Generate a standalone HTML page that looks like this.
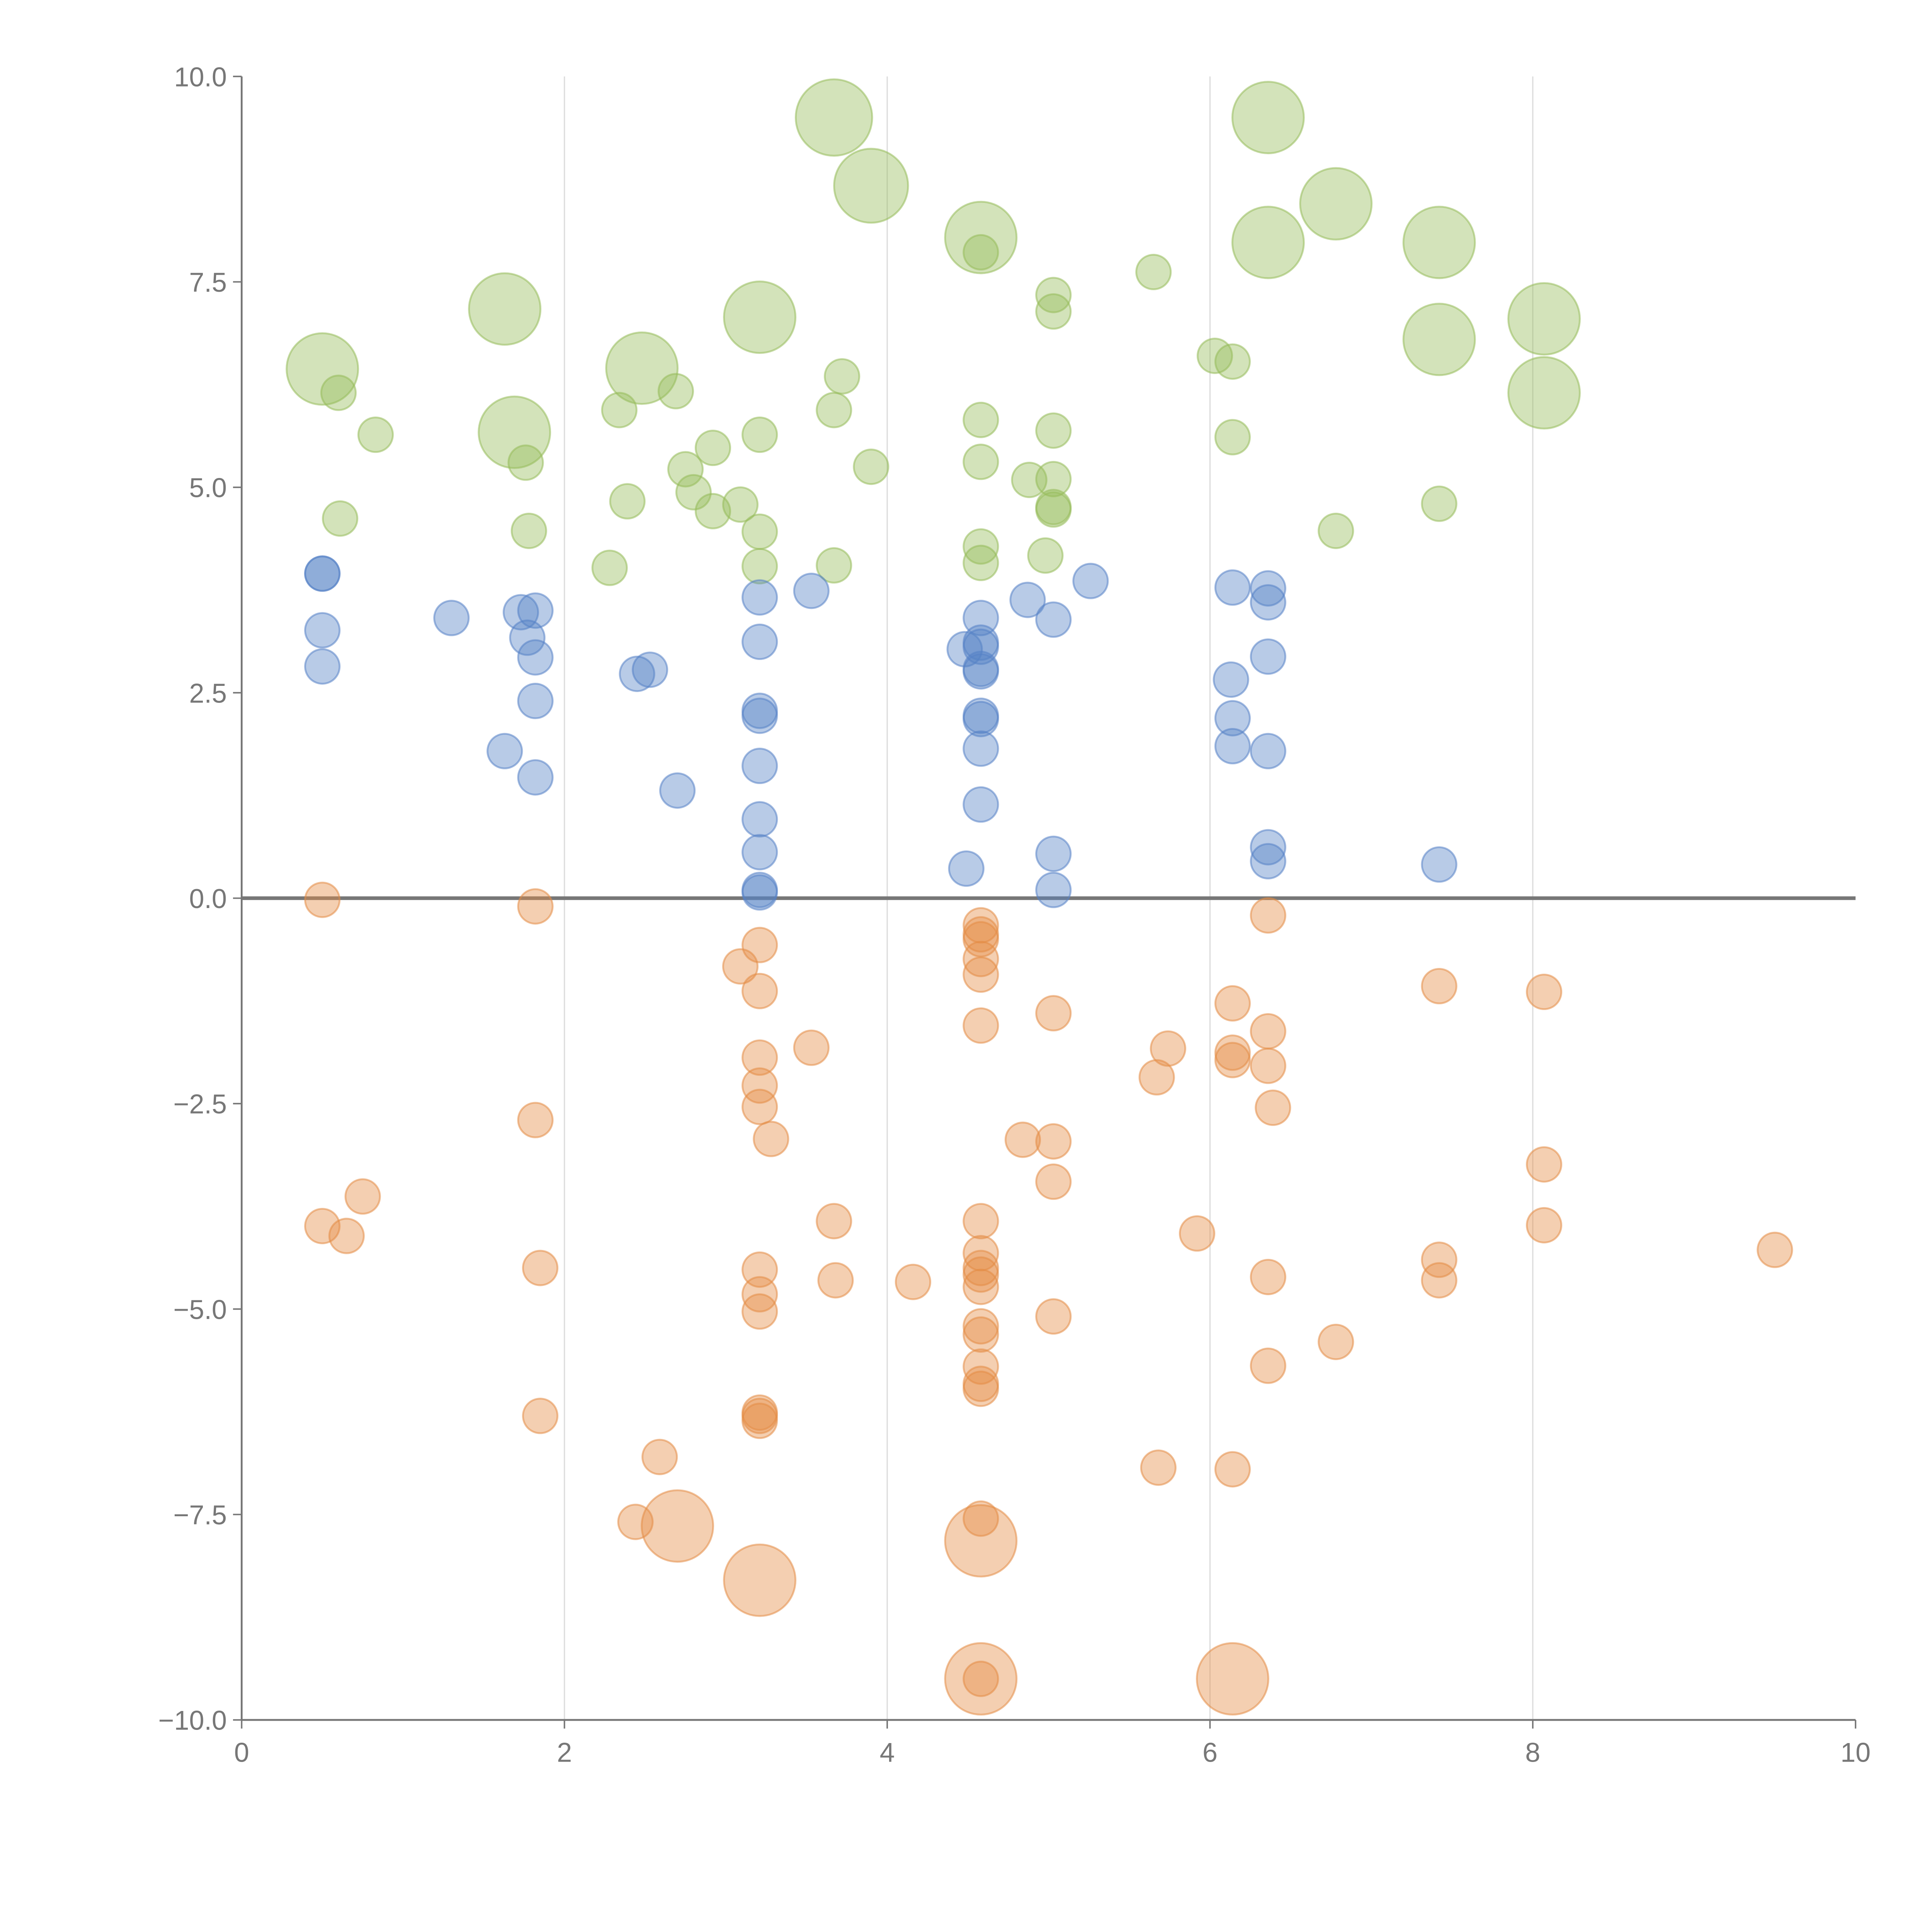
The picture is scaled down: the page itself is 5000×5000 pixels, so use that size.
<!DOCTYPE html>
<html><head><meta charset="utf-8"><style>
html,body{margin:0;padding:0;background:#fff;}
svg{display:block;}
text{font-family:"Liberation Sans",Arial,sans-serif;}
</style></head><body>
<svg id="chart" width="5000" height="5000" viewBox="0 0 1567 1567" xmlns="http://www.w3.org/2000/svg">
<g id="grid"></g>
<g id="axes"></g>
<g id="marks"></g>
</svg>
<script>
const xTicks=[0,2,4,6,8,10];
const yTicks=[-10,-7.5,-5,-2.5,0,2.5,5,7.5,10];
const greenX=[0.6,0.83,0.61,1.76,1.78,2.28,2.34,2.39,2.69,2.75,2.8,2.92,2.92,3.09,3.21,3.21,3.21,3.67,3.72,3.67,3.9,4.58,4.58,4.58,4.58,4.58,4.88,4.98,5.03,5.03,5.03,5.03,5.03,5.03,5.65,6.03,6.14,6.14,6.78,7.42,
 3.67,3.9,4.58,6.36,6.36,6.78,7.42,7.42,8.07,8.07,1.63,1.69,2.48,3.21,0.5];
const greenY=[6.15,5.64,4.62,5.3,4.47,4.02,5.94,4.83,6.17,5.22,4.94,5.48,4.71,4.79,5.64,4.46,4.04,5.94,6.35,4.05,5.25,7.86,5.82,5.31,4.28,4.08,5.09,4.17,7.34,7.14,5.69,5.1,4.76,4.73,7.62,6.6,6.53,5.61,4.47,4.8,
 9.5,8.67,8.04,9.5,7.98,8.45,7.98,6.8,7.05,6.15,7.17,5.67,6.45,7.07,6.44];
const greenSize=[14,14,14,14,14,14,14,14,14,14,14,14,14,14,14,14,14,14,14,14,14,14,14,14,14,14,14,14,14,14,14,14,14,14,14,14,14,14,14,14,
 31,30,29,29,29,29,29,29,29,29,29,29,29,29,29];
const blueX=[0.5,0.5,0.5,0.5,1.3,1.73,1.82,1.77,1.82,1.82,1.63,1.82,2.45,2.53,2.7,3.21,3.21,3.21,3.21,3.21,3.21,3.21,3.21,3.21,3.53,4.49,4.48,4.58,4.58,4.58,4.58,4.58,4.58,4.58,4.58,4.58,4.87,5.03,5.03,5.03,5.26,6.14,6.13,6.14,6.14,6.36,6.36,6.36,6.36,6.36,6.36,7.42];
const blueY=[3.95,3.95,3.26,2.82,3.41,3.48,3.5,3.17,2.93,2.4,1.79,1.47,2.73,2.78,1.31,3.66,3.12,2.28,2.22,1.61,0.96,0.56,0.1,0.07,3.74,0.36,3.03,3.41,3.11,3.06,2.79,2.76,2.22,2.18,1.82,1.14,3.63,3.39,0.54,0.1,3.86,3.78,2.66,2.19,1.85,3.77,3.6,2.94,1.79,0.62,0.45,0.41];
const orangeX=[0.5,1.82,3.21,3.09,3.21,3.21,3.21,3.21,3.28,3.53,1.82,0.75,0.5,0.65,1.85,1.85,2.59,2.44,3.21,3.21,3.21,3.21,3.21,3.21,3.67,3.68,4.16,4.58,4.58,4.58,4.58,4.58,4.58,4.58,4.58,4.58,4.58,4.58,4.58,4.58,4.58,4.58,4.58,4.58,4.58,4.84,5.03,5.03,5.03,5.03,5.67,5.74,5.92,5.68,6.14,6.14,6.14,6.14,6.36,6.36,6.36,6.39,6.36,6.36,6.78,7.42,7.42,7.42,8.07,8.07,8.07,9.5,
 2.7,3.21,4.58,4.58,6.14];
const orangeY=[-0.02,-0.1,-0.57,-0.83,-1.13,-1.94,-2.28,-2.54,-2.93,-1.82,-2.7,-3.63,-3.99,-4.11,-4.5,-6.3,-6.8,-7.59,-4.52,-4.82,-5.03,-6.26,-6.3,-6.36,-3.93,-4.65,-4.67,-0.33,-0.44,-0.5,-0.74,-0.93,-1.55,-3.93,-4.32,-4.5,-4.58,-4.73,-5.21,-5.31,-5.7,-5.91,-5.97,-7.55,-9.5,-2.94,-1.4,-2.96,-3.45,-5.09,-2.18,-1.83,-4.08,-6.93,-1.28,-1.88,-1.97,-6.95,-0.21,-1.62,-2.04,-2.55,-4.61,-5.69,-5.4,-1.07,-4.4,-4.65,-1.14,-3.24,-3.98,-4.28,
 -7.64,-8.3,-7.82,-9.5,-9.5];
const orangeSize=orangeX.map((v,i)=>i>=orangeX.length-5?29:14);

const NS='http://www.w3.org/2000/svg';
const X0=196,X1=1505,Y0=1395,Y1=62;
function sx(v){return X0+(v-0)/(10-0)*(X1-X0);}
function sy(v){return Y0-(v+10)/20*(Y0-Y1);}
function mk(tag,attrs,parent){const e=document.createElementNS(NS,tag);for(const k in attrs)e.setAttribute(k,attrs[k]);parent.appendChild(e);return e;}
const grid=document.getElementById('grid'),axes=document.getElementById('axes'),marks=document.getElementById('marks');
xTicks.forEach(t=>{
  if(t>0&&t<10){const g=mk('line',{x1:sx(t),x2:sx(t),y1:Y1,y2:Y0,stroke:'#dcdcdc','stroke-width':1},grid);
  
  }
  const tk=mk('line',{x1:sx(t),x2:sx(t),y1:Y0,y2:Y0+7,stroke:'#777','stroke-width':1.2},axes);
  
  
  const tx=mk('text',{x:sx(t),y:Y0+34,'text-anchor':'middle','font-size':22,fill:'#777'},axes);
  tx.textContent=String(t);
  
  
});
yTicks.forEach(t=>{
  const tk=mk('line',{x1:X0-7,x2:X0,y1:sy(t),y2:sy(t),stroke:'#777','stroke-width':1.2},axes);
  
  
  const tx=mk('text',{x:X0-12,y:sy(t)+8,'text-anchor':'end','font-size':22,fill:'#777'},axes);
  tx.textContent=(t<0?'\u2212':'')+Math.abs(t).toFixed(1);
  
  
});
const ya=mk('line',{x1:X0,x2:X0,y1:Y1,y2:Y0,stroke:'#777','stroke-width':1.5},axes);


const xa=mk('line',{x1:X0,x2:X1,y1:Y0,y2:Y0,stroke:'#777','stroke-width':1.5},axes);


const zl=mk('line',{x1:X0,x2:X1,y1:sy(0),y2:sy(0),stroke:'#777','stroke-width':3},axes);


function draw(xs,ys,ss,fill,name){
  xs.forEach((x,i)=>{
    const c=mk('circle',{cx:sx(x),cy:sy(ys[i]),r:ss[i],fill:fill,'fill-opacity':0.42,stroke:fill,'stroke-opacity':0.55,'stroke-width':1.5},marks);
    
    
  });
}
draw(greenX,greenY,greenSize,'rgb(150,188,90)','green-bubble');
draw(blueX,blueY,blueX.map(()=>14),'rgb(85,130,198)','blue-bubble');
draw(orangeX,orangeY,orangeSize,'rgb(228,140,70)','orange-bubble');
</script>
</body></html>
